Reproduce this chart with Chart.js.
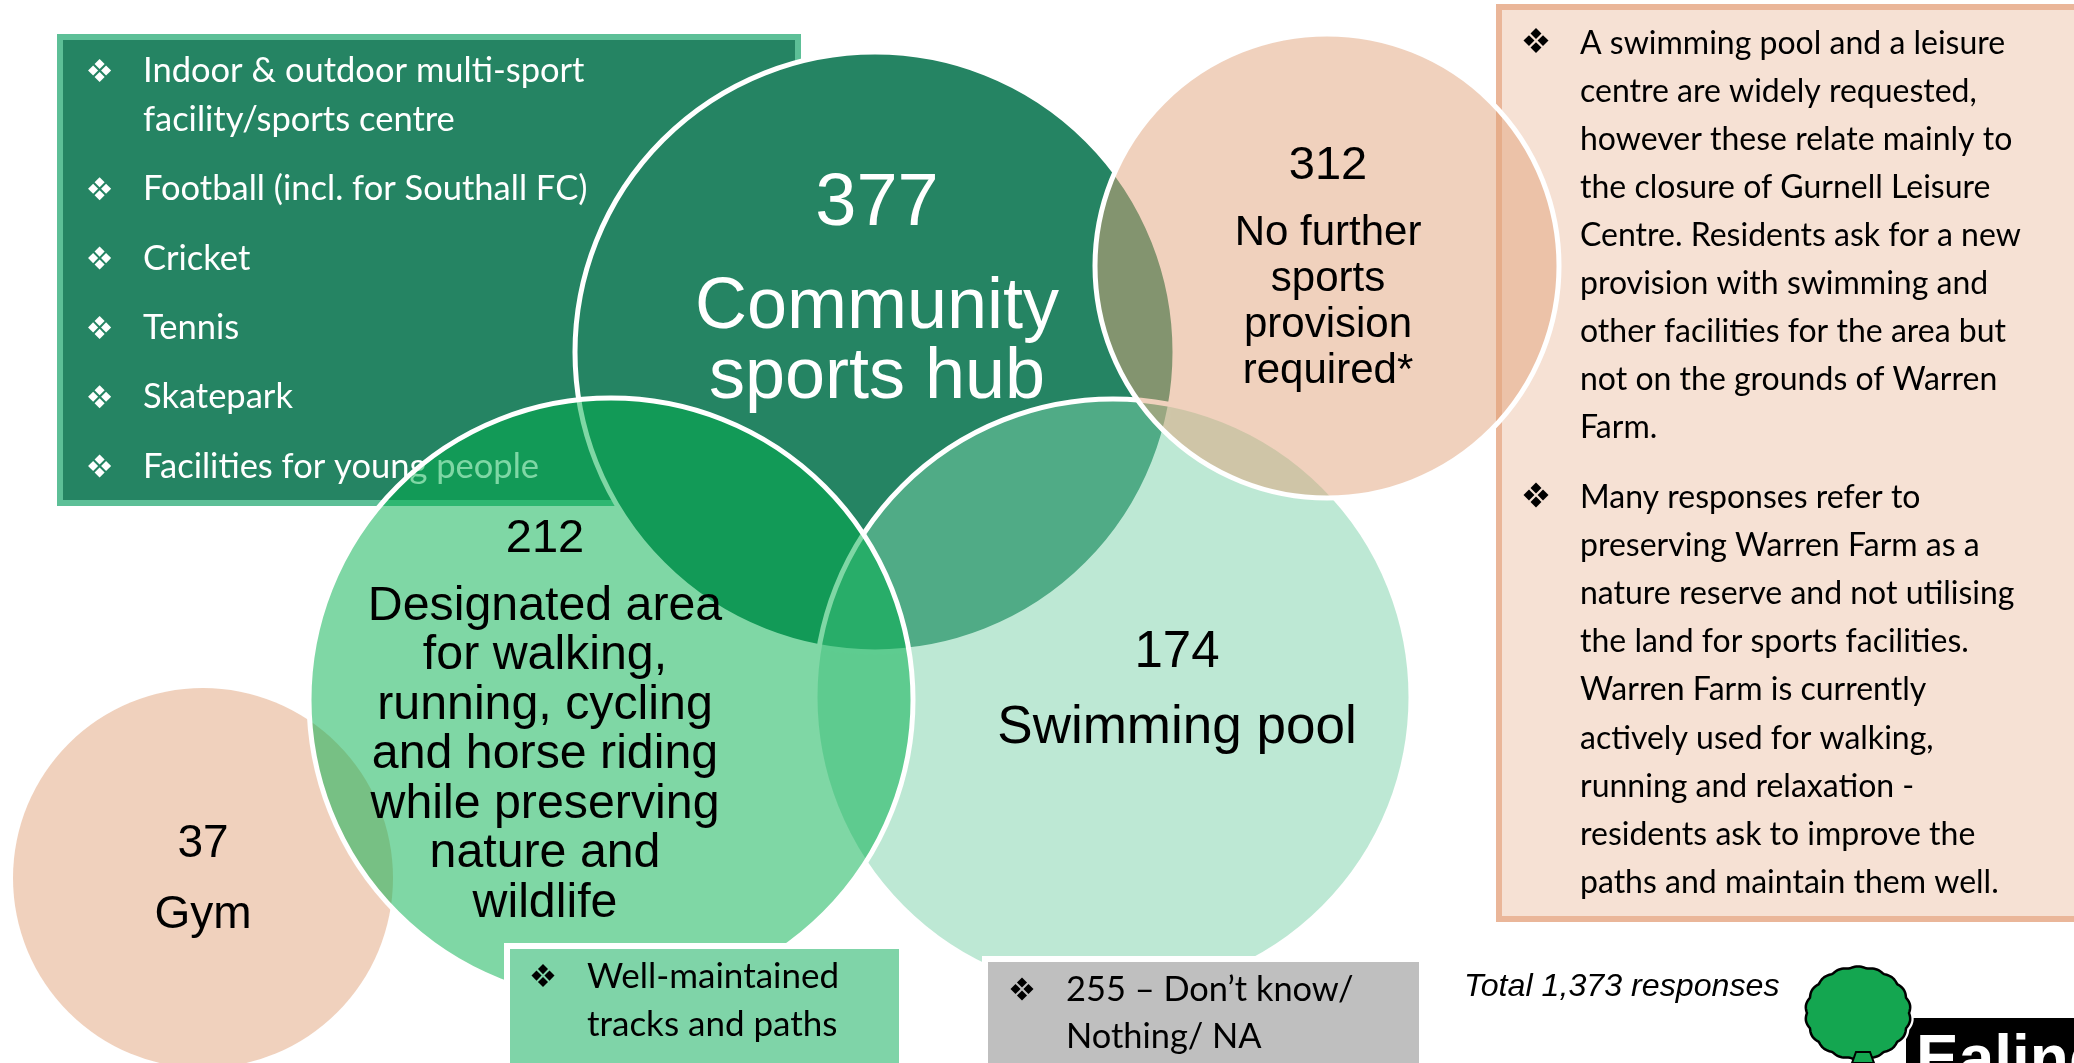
<!DOCTYPE html>
<html>
<head>
<meta charset="utf-8">
<script src="https://cdn.jsdelivr.net/npm/chart.js@4.4.1/dist/chart.umd.min.js"></script>
<style>
  html, body { margin: 0; padding: 0; background: #fff; }
  #wrap { width: 2074px; height: 1063px; }
</style>
</head>
<body>
<div id="wrap"><canvas id="venn" width="2074" height="1063"></canvas></div>
<script>
// Categories, in drawing order (first one ends up at the bottom)
const categories = [
  'Community sports hub',
  'Swimming pool',
  'No further sports provision required*',
  'Gym',
  'Designated area for walking, running, cycling and horse riding while preserving nature and wildlife'
];
const responses = [377, 174, 312, 37, 212];
const totalResponses = 1373;

// how each category name is broken on the slide
const labelLines = [
  ['Community', 'sports hub'],
  ['Swimming pool'],
  ['No further', 'sports', 'provision', 'required*'],
  ['Gym'],
  ['Designated area', 'for walking,', 'running, cycling', 'and horse riding', 'while preserving', 'nature and', 'wildlife']
];

// side notes
const hubItems = [
  ['Indoor & outdoor multi-sport', 'facility/sports centre'],
  ['Football (incl. for Southall FC)'],
  ['Cricket'],
  ['Tennis'],
  ['Skatepark'],
  ['Facilities for young people']
];
const pathItems = [['Well-maintained', 'tracks and paths']];
const otherItems = [['255 \u2013 Don\u2019t know/', 'Nothing/ NA']];
const noteItems = [
  ['A swimming pool and a leisure', 'centre are widely requested,', 'however these relate mainly to',
   'the closure of Gurnell Leisure', 'Centre. Residents ask for a new', 'provision with swimming and',
   'other facilities for the area but', 'not on the grounds of Warren', 'Farm.'],
  ['Many responses refer to', 'preserving Warren Farm as a', 'nature reserve and not utilising',
   'the land for sports facilities.', 'Warren Farm is currently', 'actively used for walking,',
   'running and relaxation -', 'residents ask to improve the', 'paths and maintain them well.']
];

// ---- layout (slide units, 2074 x 1063) ----
const circleX = [875, 1113, 1327, 203, 611];
const circleY = [352, 697, 266, 878, 700];
const circleR = [300, 298, 232, 190, 302];
const circleFill = ['#258463', 'rgba(123,209,169,0.5)', 'rgba(225,163,123,0.5)', 'rgba(225,163,123,0.5)', 'rgba(0,175,76,0.5)'];
const circleLine = [5, 5, 5, 0, 5];

// where the number / name sit inside each circle
const labelPos = [
  { x: 877, numY: 225, numSize: 74, y: 328, size: 72, step: 70, color: '#ffffff' },
  { x: 1177, numY: 667, numSize: 51, y: 743, size: 53, step: 0, color: '#000000' },
  { x: 1328, numY: 179, numSize: 47, y: 244.6, size: 42, step: 46, color: '#000000' },
  { x: 203, numY: 857, numSize: 46, y: 928, size: 46, step: 0, color: '#000000' },
  { x: 545, numY: 552, numSize: 47, y: 619.5, size: 48.3, step: 49.5, color: '#000000' }
];

const ARIAL = '"Liberation Sans", Arial, sans-serif';
const BODY = 'Lato, "Open Sans", sans-serif';

// four little diamonds, like the wingdings bullet
function bullet(ctx, cx, cy, s, color) {
  const d = s * 0.27, h = s * 0.21;
  ctx.fillStyle = color;
  [[0, -d], [-d, 0], [d, 0], [0, d]].forEach(([ox, oy]) => {
    ctx.beginPath();
    ctx.moveTo(cx + ox, cy + oy - h);
    ctx.lineTo(cx + ox + h, cy + oy);
    ctx.lineTo(cx + ox, cy + oy + h);
    ctx.lineTo(cx + ox - h, cy + oy);
    ctx.closePath();
    ctx.fill();
  });
}

function drawList(ctx, items, o) {
  let y = o.y;
  ctx.font = o.font;
  ctx.textAlign = 'left';
  ctx.textBaseline = 'alphabetic';
  items.forEach((lines, i) => {
    if (i > 0) y += o.gap;
    bullet(ctx, o.bx, y - o.bOff, o.bSize, o.color);
    ctx.fillStyle = o.color;
    lines.forEach((t, j) => {
      if (j > 0) y += o.step;
      ctx.fillText(t, o.tx, y);
    });
  });
}

function box(ctx, x, y, w, h, fill, stroke, lw) {
  ctx.fillStyle = fill;
  ctx.fillRect(x, y, w, h);
  if (lw) {
    ctx.strokeStyle = stroke;
    ctx.lineWidth = lw;
    ctx.strokeRect(x, y, w, h);
  }
}

function drawLogo(ctx) {
  // black name plate
  ctx.fillStyle = '#000';
  ctx.fillRect(1906, 1018, 170, 50);
  ctx.fillStyle = '#fff';
  ctx.font = 'bold 64px ' + ARIAL;
  ctx.textAlign = 'left';
  ctx.fillText('Ealing', 1916, 1080);

  // tree crown with a bumpy edge
  const cx = 1858, cy = 1013, rx = 51, ry = 45;
  ctx.beginPath();
  for (let k = 0; k <= 200; k++) {
    const a = k / 200 * Math.PI * 2;
    const bump = 1 + 0.035 * Math.abs(Math.sin(a * 9));
    const px = cx + Math.cos(a) * rx * bump;
    const py = cy + Math.sin(a) * ry * bump;
    if (k === 0) ctx.moveTo(px, py); else ctx.lineTo(px, py);
  }
  ctx.closePath();
  ctx.lineWidth = 7;
  ctx.strokeStyle = '#fff';
  ctx.stroke();
  ctx.fillStyle = '#14a650';
  ctx.fill();
  ctx.lineWidth = 2.5;
  ctx.strokeStyle = '#000';
  ctx.stroke();

  // trunk
  ctx.beginPath();
  ctx.moveTo(1852, 1063);
  ctx.lineTo(1856, 1052);
  ctx.lineTo(1870, 1052);
  ctx.lineTo(1874, 1063);
  ctx.closePath();
  ctx.fillStyle = '#14a650';
  ctx.fill();
  ctx.lineWidth = 2;
  ctx.strokeStyle = '#000';
  ctx.stroke();
}

const slidePlugin = {
  id: 'slide',
  beforeDatasetsDraw(chart) {
    const ctx = chart.ctx;
    ctx.save();
    // top-left list, partly under the circles
    box(ctx, 60, 37, 738, 466, '#258463', '#5dbf97', 6);
    drawList(ctx, hubItems, { y: 82, tx: 143, bx: 99.6, bOff: 11.5, bSize: 24, step: 49, gap: 69.3, font: '34.5px ' + BODY, color: '#ffffff' });
    // right-hand notes
    box(ctx, 1499, 7, 590, 912, '#f6e1d4', '#eab699', 6);
    drawList(ctx, noteItems, { y: 53.6, tx: 1580, bx: 1536, bOff: 13, bSize: 26, step: 48.1, gap: 69.6, font: '32px ' + BODY, color: '#000000' });
    ctx.restore();
  },
  afterDatasetsDraw(chart) {
    const ctx = chart.ctx;
    const xs = chart.scales.x, ys = chart.scales.y;
    ctx.save();

    // small boxes sitting on top of the circles
    box(ctx, 507, 946, 395, 130, '#7fd4a8', '#ffffff', 6);
    drawList(ctx, pathItems, { y: 987.6, tx: 587, bx: 543, bOff: 12, bSize: 24, step: 48, gap: 0, font: '35px ' + BODY, color: '#000000' });
    box(ctx, 985, 959, 437, 120, '#bfbfbf', '#ffffff', 6);
    drawList(ctx, otherItems, { y: 1001, tx: 1066, bx: 1022, bOff: 12, bSize: 24, step: 47, gap: 0, font: '34.4px ' + BODY, color: '#000000' });

    // number + name inside each circle
    ctx.textAlign = 'center';
    ctx.textBaseline = 'alphabetic';
    responses.forEach((v, i) => {
      const p = labelPos[i];
      const x = xs.getPixelForValue(p.x);
      ctx.fillStyle = p.color;
      ctx.font = p.numSize + 'px ' + ARIAL;
      ctx.fillText(String(v), x, ys.getPixelForValue(p.numY));
      ctx.font = p.size + 'px ' + ARIAL;
      labelLines[i].forEach((t, j) => {
        ctx.fillText(t, x, ys.getPixelForValue(p.y + j * p.step));
      });
    });

    ctx.textAlign = 'left';
    ctx.fillStyle = '#000';
    ctx.font = 'italic 32.2px ' + ARIAL;
    ctx.fillText('Total ' + totalResponses.toLocaleString('en-GB') + ' responses', 1464, 996);

    drawLogo(ctx);
    ctx.restore();
  }
};

const ctx = document.getElementById('venn').getContext('2d');
new Chart(ctx, {
  type: 'bubble',
  data: {
    labels: categories,
    datasets: [{
      label: 'Responses',
      data: responses.map((v, i) => ({ x: circleX[i], y: circleY[i], r: circleR[i] })),
      backgroundColor: circleFill,
      borderColor: '#ffffff',
      borderWidth: circleLine,
      clip: false
    }]
  },
  options: {
    responsive: false,
    animation: false,
    events: [],
    layout: { padding: 0, autoPadding: false },
    plugins: { legend: { display: false }, tooltip: { enabled: false } },
    scales: {
      x: { type: 'linear', min: 0, max: 2074, display: false },
      y: { type: 'linear', min: 0, max: 1063, reverse: true, display: false }
    }
  },
  plugins: [slidePlugin]
});
</script>
</body>
</html>
